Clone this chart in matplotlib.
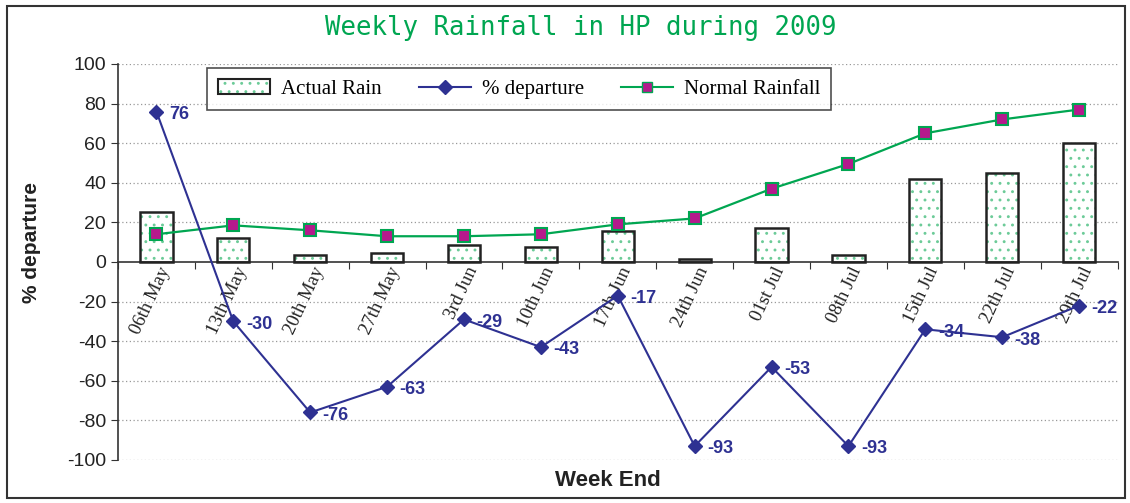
import matplotlib.pyplot as plt
import matplotlib.patches as mpatches
from matplotlib.lines import Line2D
import numpy as np

plt.rcParams['axes.unicode_minus'] = False
plt.rcParams['hatch.linewidth'] = 0.9

weeks = ['06th May', '13th May', '20th May', '27th May', '3rd Jun', '10th Jun',
         '17th Jun', '24th Jun', '01st Jul', '08th Jul', '15th Jul', '22th Jul', '29th Jul']
actual_rain = [25, 12, 3.5, 4.5, 8.6, 7.6, 15.7, 1.5, 17, 3.5, 42, 45, 60]
departure = [76, -30, -76, -63, -29, -43, -17, -93, -53, -93, -34, -38, -22]
normal_rain = [14, 18.5, 16, 13, 13, 14, 19, 22, 37, 49.5, 65, 72, 77]

navy = '#2E3192'
green = '#00A651'
magenta = '#B5198C'
dotgreen = '#6CCB98'

fig = plt.figure(figsize=(11.3, 5.03), dpi=100)
ax = fig.add_axes([0.1044, 0.0855, 0.8846, 0.7873])
x = np.arange(len(weeks))

# bars: green dotted hatch, then black outline on top
ax.bar(x, actual_rain, width=0.42, color='white', edgecolor=dotgreen, hatch='..',
       linewidth=0, zorder=2)
ax.bar(x, actual_rain, width=0.42, color='none', edgecolor='#222222',
       linewidth=1.8, zorder=3)

ax.plot(x, normal_rain, color=green, lw=1.6, marker='s', markersize=8,
        markerfacecolor=magenta, markeredgecolor=green, markeredgewidth=1.5, zorder=4)
ax.plot(x, departure, color=navy, lw=1.5, marker='D', markersize=7,
        markerfacecolor=navy, markeredgecolor=navy, zorder=5)

for xi, v in zip(x, departure):
    ax.annotate(str(v), (xi, v), xytext=(9, -2), textcoords='offset points',
                ha='left', va='center', color=navy, fontsize=13, fontweight='bold',
                family='Liberation Sans', zorder=6)

ax.set_xlim(-0.5, len(weeks) - 0.5)
ax.set_ylim(-100, 100)
ax.set_yticks(np.arange(-100, 101, 20))
ax.tick_params(axis='y', labelsize=14, direction='out', length=5, color='#333333',
               labelcolor='#222222')
for lab in ax.get_yticklabels():
    lab.set_family('Liberation Sans')
for yv in np.arange(-100, 101, 20):
    if yv != 0:
        ax.axhline(yv, color='#999999', lw=0.9, ls=(0, (1, 2)), zorder=0)

ax.spines['top'].set_visible(False)
ax.spines['right'].set_visible(False)
ax.spines['bottom'].set_position(('data', 0))
ax.spines['bottom'].set_color('#333333')
ax.spines['left'].set_color('#333333')
ax.spines['bottom'].set_linewidth(1.2)
ax.spines['left'].set_linewidth(1.2)

ax.set_xticks(np.arange(len(weeks) + 1) - 0.5)
ax.set_xticklabels([])
ax.tick_params(axis='x', direction='out', length=5, color='#333333')
for xi, w in zip(x, weeks):
    ax.text(xi + 0.22, -1, w, rotation=65, ha='right', va='top', fontsize=13.5,
            family='Liberation Serif', color='#222222', zorder=1)

ax.set_ylabel('% departure', fontsize=15, fontweight='bold', family='Liberation Sans',
              color='#222222')
ax.yaxis.set_label_coords(-0.077, 0.548)
fig.text(0.538, 0.045, 'Week End', ha='center', va='center', fontsize=16,
         fontweight='bold', family='Liberation Sans', color='#222222')
fig.text(0.514, 0.944, 'Weekly Rainfall in HP during 2009', ha='center', va='center',
         fontsize=18.5, family='DejaVu Sans Mono', color=green)

handles = [
    (mpatches.Patch(facecolor='white', edgecolor=dotgreen, hatch='..', lw=0),
     mpatches.Patch(facecolor='none', edgecolor='#222222', lw=1.5)),
    Line2D([], [], color=navy, marker='D', markersize=7, lw=1.5),
    Line2D([], [], color=green, marker='s', markersize=7, lw=1.5,
           markerfacecolor=magenta, markeredgecolor=green),
]
leg = ax.legend(handles, ['Actual Rain', '% departure', 'Normal Rainfall'], ncol=3,
                loc='upper left', bbox_to_anchor=(0.089, 0.99), borderaxespad=0,
                frameon=True, fancybox=False, edgecolor='#222222',
                prop={'family': 'Liberation Serif', 'size': 15},
                handlelength=2.5, columnspacing=1.8, borderpad=0.55, handletextpad=0.5)
leg.get_frame().set_linewidth(1.2)

fig.patches.append(mpatches.Rectangle((0.006, 0.01), 0.99, 0.978, transform=fig.transFigure,
                                      fill=False, edgecolor='#333333', lw=1.5))

fig.savefig('out.png', dpi=100)
